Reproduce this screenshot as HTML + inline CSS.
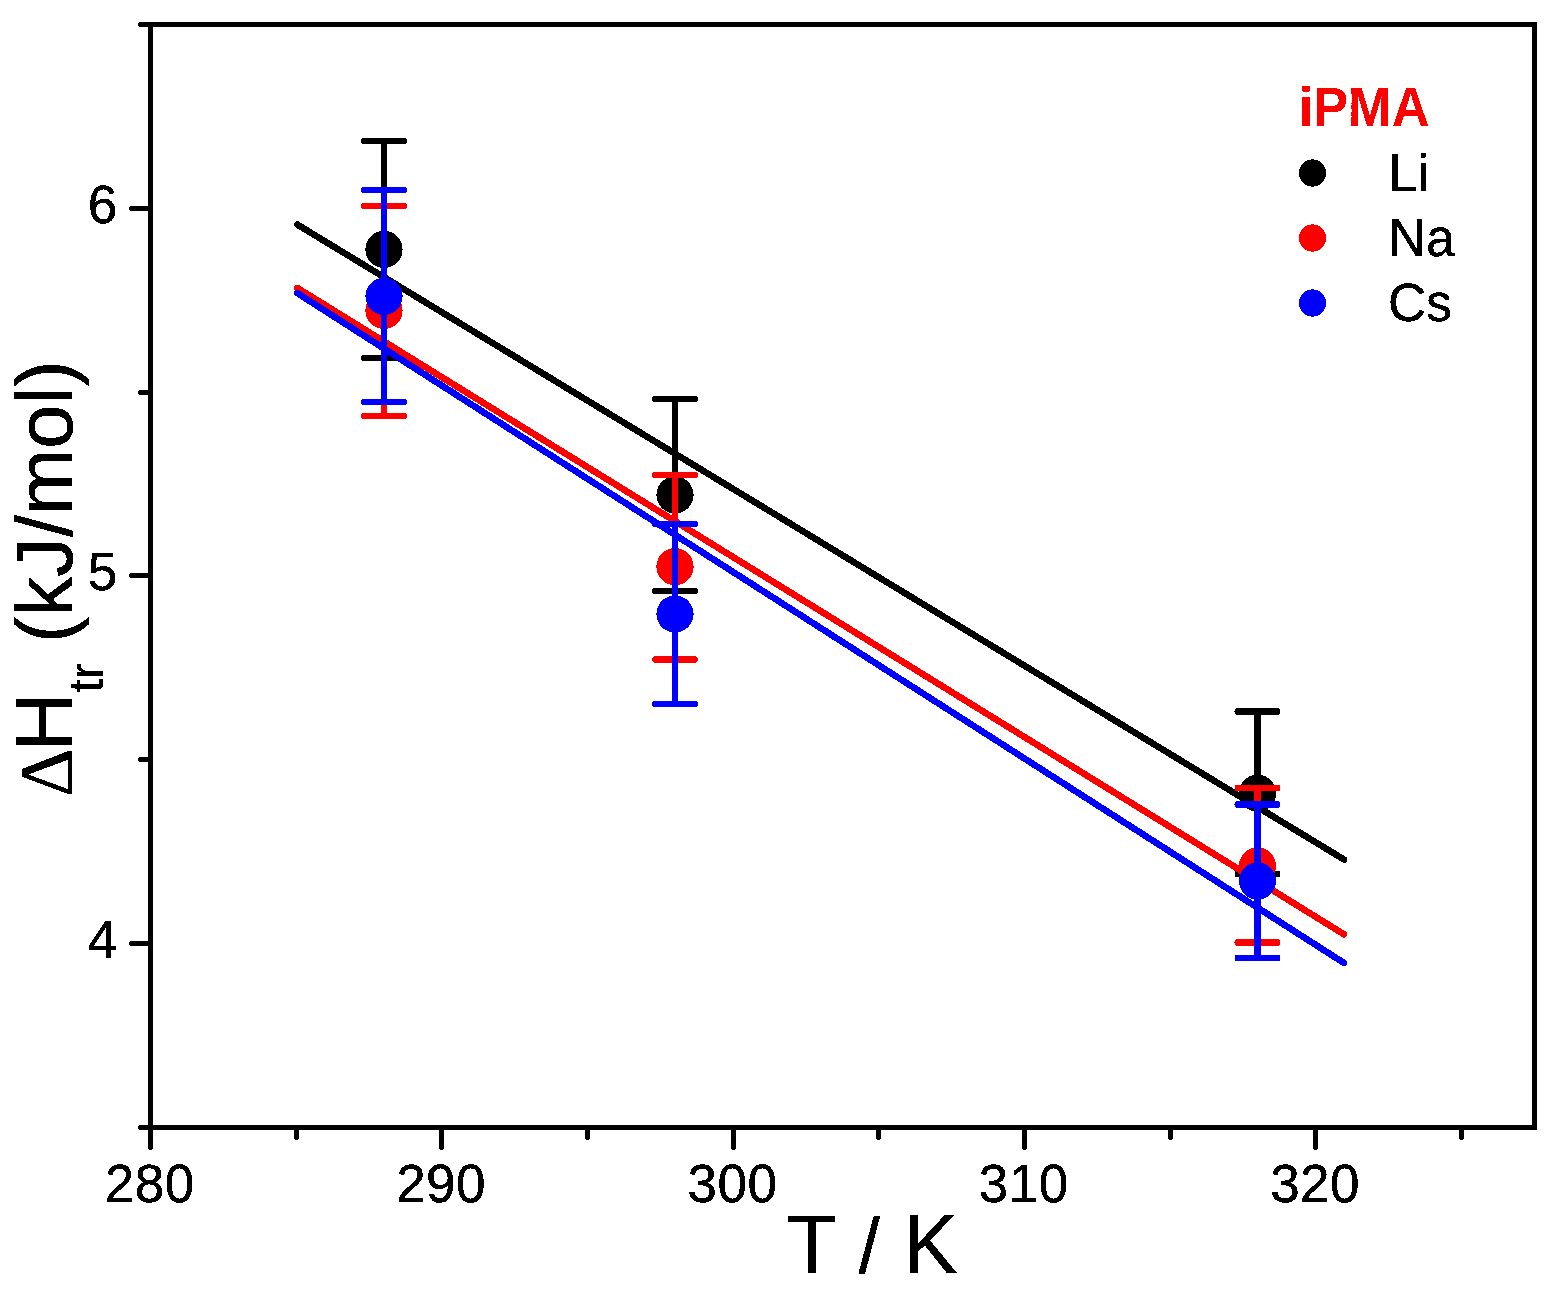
<!DOCTYPE html>
<html lang="en">
<head>
<meta charset="utf-8">
<title>iPMA transition enthalpy vs temperature</title>
<style>
html,body{margin:0;padding:0;background:#ffffff;}
body{width:1554px;height:1297px;overflow:hidden;}
svg{display:block;}
text{font-family:"Liberation Sans",sans-serif;}
</style>
</head>
<body>
<svg width="1554" height="1297" viewBox="0 0 1554 1297" shape-rendering="crispEdges">
<rect x="0" y="0" width="1554" height="1297" fill="#ffffff"/>
<defs>
<filter id="hard" x="-5%" y="-5%" width="110%" height="110%" color-interpolation-filters="sRGB">
<feComponentTransfer><feFuncA type="discrete" tableValues="0 1"/></feComponentTransfer>
</filter>
</defs>

<!-- Li: data points with error bars, then linear fit -->
<g stroke="#000000" fill="#000000" stroke-width="6.5" stroke-linecap="round">
<line x1="384" y1="141" x2="384" y2="358" stroke-linecap="butt"/>
<line x1="364.25" y1="141" x2="403.75" y2="141"/>
<line x1="364.25" y1="358" x2="403.75" y2="358"/>
<circle cx="384" cy="249.4" r="18.6" stroke="none"/>
<line x1="675" y1="399" x2="675" y2="591" stroke-linecap="butt"/>
<line x1="655.25" y1="399" x2="694.75" y2="399"/>
<line x1="655.25" y1="591" x2="694.75" y2="591"/>
<circle cx="675" cy="494.9" r="18.6" stroke="none"/>
<line x1="1257.5" y1="711.5" x2="1257.5" y2="874" stroke-linecap="butt"/>
<line x1="1237.75" y1="711.5" x2="1277.25" y2="711.5"/>
<line x1="1237.75" y1="874" x2="1277.25" y2="874"/>
<circle cx="1257.5" cy="793.2" r="18.6" stroke="none"/>
<line x1="297.2" y1="224.5" x2="1344" y2="859.5" stroke-width="6.6"/>
</g>
<!-- Na: data points with error bars, then linear fit -->
<g stroke="#ff0000" fill="#ff0000" stroke-width="6.5" stroke-linecap="round">
<line x1="384" y1="206" x2="384" y2="416" stroke-linecap="butt"/>
<line x1="364.25" y1="206" x2="403.75" y2="206"/>
<line x1="364.25" y1="416" x2="403.75" y2="416"/>
<circle cx="384" cy="310.5" r="18.6" stroke="none"/>
<line x1="675" y1="475" x2="675" y2="659.5" stroke-linecap="butt"/>
<line x1="655.25" y1="475" x2="694.75" y2="475"/>
<line x1="655.25" y1="659.5" x2="694.75" y2="659.5"/>
<circle cx="675" cy="566.7" r="18.6" stroke="none"/>
<line x1="1257.5" y1="788" x2="1257.5" y2="942.5" stroke-linecap="butt"/>
<line x1="1237.75" y1="788" x2="1277.25" y2="788"/>
<line x1="1237.75" y1="942.5" x2="1277.25" y2="942.5"/>
<circle cx="1257.5" cy="866.0" r="18.6" stroke="none"/>
<line x1="297.2" y1="287.9" x2="1344" y2="934.3" stroke-width="6.6"/>
</g>
<!-- Cs: data points with error bars, then linear fit -->
<g stroke="#0000ff" fill="#0000ff" stroke-width="6.5" stroke-linecap="round">
<line x1="384" y1="190" x2="384" y2="402" stroke-linecap="butt"/>
<line x1="364.25" y1="190" x2="403.75" y2="190"/>
<line x1="364.25" y1="402" x2="403.75" y2="402"/>
<circle cx="384" cy="296.3" r="18.6" stroke="none"/>
<line x1="675" y1="524" x2="675" y2="704" stroke-linecap="butt"/>
<line x1="655.25" y1="524" x2="694.75" y2="524"/>
<line x1="655.25" y1="704" x2="694.75" y2="704"/>
<circle cx="675" cy="614.0" r="18.6" stroke="none"/>
<line x1="1257.5" y1="804.5" x2="1257.5" y2="958" stroke-linecap="butt"/>
<line x1="1237.75" y1="804.5" x2="1277.25" y2="804.5"/>
<line x1="1237.75" y1="958" x2="1277.25" y2="958"/>
<circle cx="1257.5" cy="881.0" r="18.6" stroke="none"/>
<line x1="297.2" y1="293.0" x2="1344" y2="963.0" stroke-width="6.6"/>
</g>
<!-- axes frame and ticks -->
<g stroke="#000" stroke-width="5" fill="none" stroke-linecap="butt">
<rect x="150.5" y="24.5" width="1384.0" height="1103.0"/>
<line x1="150.5" y1="1127.5" x2="150.5" y2="1147.8" stroke-linecap="round"/>
<line x1="296.5" y1="1127.5" x2="296.5" y2="1137.8" stroke-linecap="round"/>
<line x1="441.5" y1="1127.5" x2="441.5" y2="1147.8" stroke-linecap="round"/>
<line x1="587.5" y1="1127.5" x2="587.5" y2="1137.8" stroke-linecap="round"/>
<line x1="733.5" y1="1127.5" x2="733.5" y2="1147.8" stroke-linecap="round"/>
<line x1="878.5" y1="1127.5" x2="878.5" y2="1137.8" stroke-linecap="round"/>
<line x1="1024.5" y1="1127.5" x2="1024.5" y2="1147.8" stroke-linecap="round"/>
<line x1="1170.5" y1="1127.5" x2="1170.5" y2="1137.8" stroke-linecap="round"/>
<line x1="1315.5" y1="1127.5" x2="1315.5" y2="1147.8" stroke-linecap="round"/>
<line x1="1461.5" y1="1127.5" x2="1461.5" y2="1137.8" stroke-linecap="round"/>
<line x1="150.5" y1="1127.5" x2="140.2" y2="1127.5" stroke-linecap="round"/>
<line x1="150.5" y1="943.5" x2="131.2" y2="943.5" stroke-linecap="round"/>
<line x1="150.5" y1="759.5" x2="140.2" y2="759.5" stroke-linecap="round"/>
<line x1="150.5" y1="575.5" x2="131.2" y2="575.5" stroke-linecap="round"/>
<line x1="150.5" y1="392.5" x2="140.2" y2="392.5" stroke-linecap="round"/>
<line x1="150.5" y1="208.5" x2="131.2" y2="208.5" stroke-linecap="round"/>
<line x1="150.5" y1="24.5" x2="140.2" y2="24.5" stroke-linecap="round"/>
</g>
<g filter="url(#hard)">
<!-- tick labels -->
<g fill="#000" stroke="#000" stroke-width="0.4">
<text transform="translate(149.8,1201.7) scale(1,1.02)" font-size="53" text-anchor="middle" letter-spacing="0.5">280</text>
<text transform="translate(441.1,1201.7) scale(1,1.02)" font-size="53" text-anchor="middle" letter-spacing="0.5">290</text>
<text transform="translate(732.5,1201.7) scale(1,1.02)" font-size="53" text-anchor="middle" letter-spacing="0.5">300</text>
<text transform="translate(1023.8,1201.7) scale(1,1.02)" font-size="53" text-anchor="middle" letter-spacing="0.5">310</text>
<text transform="translate(1315.1,1201.7) scale(1,1.02)" font-size="53" text-anchor="middle" letter-spacing="0.5">320</text>
<text transform="translate(117.3,957.7) scale(1,1.025)" font-size="53" text-anchor="end" >4</text>
<text transform="translate(117.3,589.7) scale(1,1.025)" font-size="53" text-anchor="end" >5</text>
<text transform="translate(117.3,222.7) scale(1,1.025)" font-size="53" text-anchor="end" >6</text>
</g>
<!-- axis titles -->
<text transform="translate(787,1272.6) scale(1,1.022)" font-size="81" fill="#000" stroke="#000" stroke-width="0.45">T <tspan font-size="76" dx="1.2">/</tspan><tspan dx="1.2"> K</tspan></text>
<text transform="translate(72,797) rotate(-90)" font-size="79.5" fill="#000" stroke="#000" stroke-width="0.45"><tspan x="0" y="0" font-size="76" style="font-family:'Liberation Serif',serif">Δ</tspan><tspan x="45.6" y="0.2" font-size="81.5">H</tspan><tspan x="104.5" y="31" font-size="48">tr</tspan><tspan x="131.9" y="0"> (kJ/mol)</tspan></text>
<!-- legend -->
<text transform="translate(1298.7,126) scale(1,1.056)" font-size="52.3" text-anchor="start" font-weight="bold" fill="#ff0000">iPMA</text>
<circle cx="1312.5" cy="173" r="13.6" fill="#000000"/>
<text transform="translate(1388,190.7) scale(1,1.025)" font-size="53" text-anchor="start" fill="#000" stroke="#000" stroke-width="0.4">L<tspan font-size="51.2">i</tspan></text>
<circle cx="1312.5" cy="238" r="13.6" fill="#ff0000"/>
<text transform="translate(1388,255.7) scale(1,1.025)" font-size="53" text-anchor="start" fill="#000" stroke="#000" stroke-width="0.4">N<tspan font-size="51.2">a</tspan></text>
<circle cx="1312.5" cy="303" r="13.6" fill="#0000ff"/>
<text transform="translate(1388,320.7) scale(1,1.025)" font-size="53" text-anchor="start" fill="#000" stroke="#000" stroke-width="0.4">C<tspan font-size="51.2">s</tspan></text>
</g>
</svg>
</body>
</html>
